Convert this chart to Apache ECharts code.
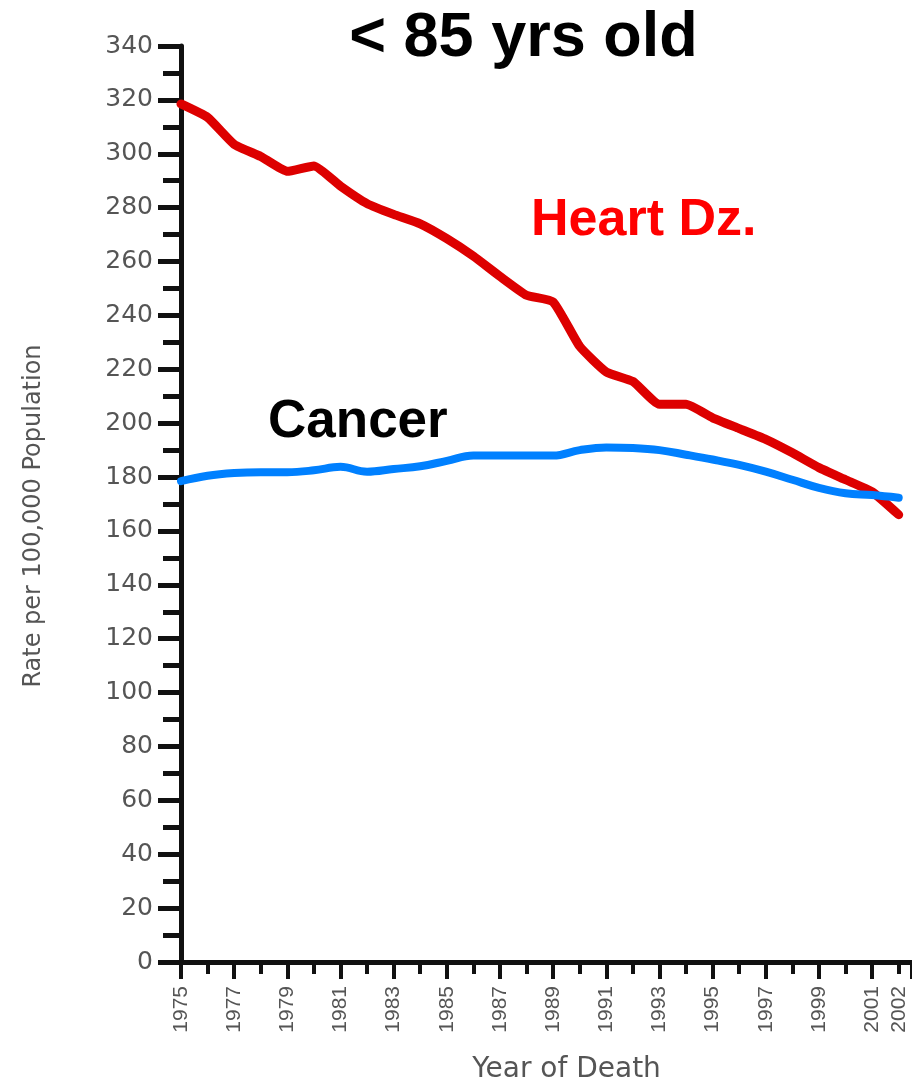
<!DOCTYPE html>
<html>
<head>
<meta charset="utf-8">
<script src="https://cdn.jsdelivr.net/npm/echarts@6/dist/echarts.min.js"></script>
<style>
html,body{margin:0;padding:0;background:#fff;overflow:hidden;}
#chart{width:912px;height:1089px;}
</style>
</head>
<body>
<div id="chart"></div>
<script>
// ---- data ----
const years = [1975,1976,1977,1978,1979,1980,1981,1982,1983,1984,1985,1986,1987,1988,1989,1990,1991,1992,1993,1994,1995,1996,1997,1998,1999,2000,2001,2002];
const heartDisease = [318.5,313.5,303.5,299,293.5,295.5,288,281.5,277.5,274,268.5,262,254.5,247.5,245,228.5,219,215.5,207,207,202,198,194,189,183.5,179,174.5,166];
const cancer = [178.5,180.5,181.5,181.8,181.8,182.5,183.8,182,183,184,186,188,188,188,188,190,191,190.8,190,188.3,186.5,184.5,182,179,176,174,173.3,172.3];
const labeledYears = [1975,1977,1979,1981,1983,1985,1987,1989,1991,1993,1995,1997,1999,2001,2002];
const chartTitle = '< 85 yrs old';
const heartLabel = 'Heart Dz.';
const cancerLabel = 'Cancer';
const yAxisName = 'Rate per 100,000 Population';
const xAxisName = 'Year of Death';

const chart = echarts.init(document.getElementById('chart'), null, {renderer: 'canvas'});
const axisColor = '#111';
const labelColor = '#555';

const option = {
  animation: false,
  backgroundColor: '#fff',
  grid: {left: 181, right: 0, top: 46, bottom: 121, containLabel: false},
  xAxis: [
    {
      type: 'value', position: 'bottom', min: 1975, max: 2002.5, interval: 1,
      axisLine: {show: true, onZero: false, lineStyle: {color: axisColor, width: 5}},
      axisTick: {show: true, length: 12, lineStyle: {color: axisColor, width: 4}},
      splitLine: {show: false},
      axisLabel: {
        rotate: 90, margin: 24, fontSize: 21, fontFamily: 'Liberation Sans', color: labelColor,
        formatter: v => (v === 2002 && labeledYears.includes(v)) ? String(v) : ''
      },
      name: xAxisName, nameLocation: 'middle', nameGap: 94,
      nameTextStyle: {fontSize: 28, fontFamily: 'DejaVu Sans', color: labelColor, padding: [0, 0, 0, 40]}
    },
    {
      type: 'value', position: 'bottom', min: 1975, max: 2002.5, interval: 2,
      axisLine: {show: false},
      axisTick: {show: true, length: 17, lineStyle: {color: axisColor, width: 4}},
      splitLine: {show: false},
      axisLabel: {
        rotate: 90, margin: 24, fontSize: 21, fontFamily: 'Liberation Sans', color: labelColor,
        formatter: v => (v !== 2002 && labeledYears.includes(v)) ? String(v) : ''
      }
    }
  ],
  yAxis: {
    type: 'value', min: 0, max: 340, interval: 20,
    axisLine: {show: true, lineStyle: {color: axisColor, width: 5}},
    axisTick: {show: true, length: 23, lineStyle: {color: axisColor, width: 5}},
    minorTick: {show: true, splitNumber: 2, length: 18, lineStyle: {color: axisColor, width: 5}},
    splitLine: {show: false},
    axisLabel: {fontSize: 25, fontFamily: 'DejaVu Sans', color: labelColor, margin: 28},
    name: yAxisName, nameLocation: 'middle', nameRotate: 90, nameGap: 135,
    nameTextStyle: {fontSize: 24, fontFamily: 'DejaVu Sans', color: labelColor, padding: [0, 24, 0, 0]}
  },
  series: [
    {
      name: heartLabel, type: 'line', xAxisIndex: 0, yAxisIndex: 0,
      data: years.map((y, i) => [y, heartDisease[i]]),
      symbol: 'none', smooth: 0.15, z: 3,
      lineStyle: {color: '#dd0000', width: 9, join: 'round', cap: 'round'}
    },
    {
      name: cancerLabel, type: 'line', xAxisIndex: 0, yAxisIndex: 0,
      data: years.map((y, i) => [y, cancer[i]]),
      symbol: 'none', smooth: 0.4, z: 4,
      lineStyle: {color: '#0080ff', width: 8, join: 'round', cap: 'round'}
    }
  ],
  graphic: [
    {type: 'text', x: 523.5, y: 39, z: 10, style: {text: chartTitle, font: 'bold 63px "Liberation Sans", Arial, sans-serif', fill: '#000', align: 'center', verticalAlign: 'middle'}},
    {type: 'text', x: 531, y: 221, z: 10, style: {text: heartLabel, font: 'bold 52px "Liberation Sans", Arial, sans-serif', fill: '#ff0000', align: 'left', verticalAlign: 'middle'}},
    {type: 'text', x: 268, y: 422, z: 10, style: {text: cancerLabel, font: 'bold 53px "Liberation Sans", Arial, sans-serif', fill: '#000', align: 'left', verticalAlign: 'middle'}}
  ]
};
chart.setOption(option);
</script>
</body>
</html>
